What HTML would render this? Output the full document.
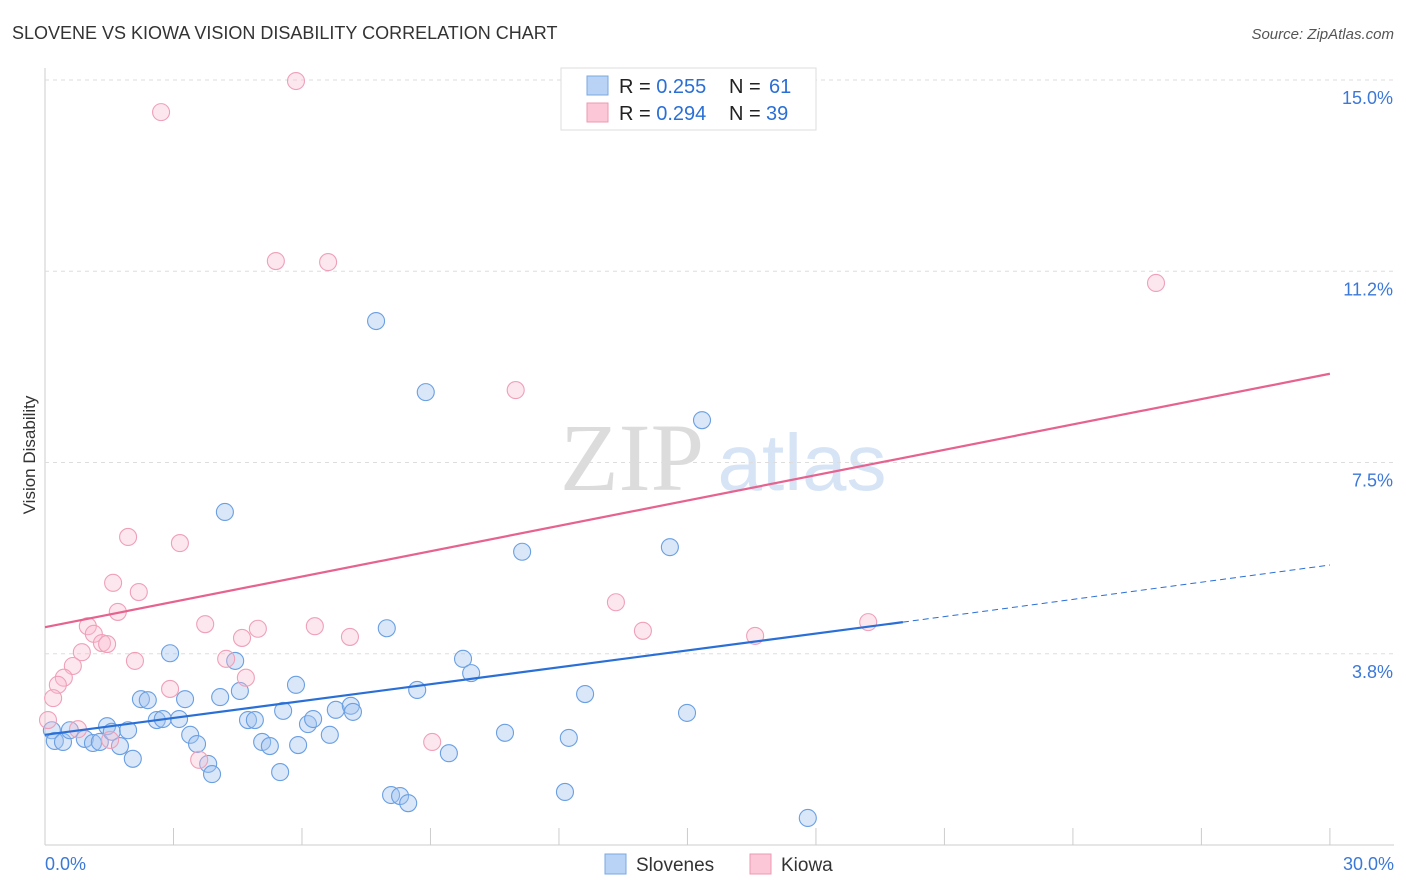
<!DOCTYPE html>
<html><head><meta charset="utf-8"><style>
body{margin:0;background:#fff;font-family:"Liberation Sans",sans-serif;}
#wrap{position:relative;width:1406px;height:892px;overflow:hidden;}
</style></head><body>
<div id="wrap">
<svg id="chart" width="1406" height="892">
<text x="12" y="39" font-size="18" fill="#333">SLOVENE VS KIOWA VISION DISABILITY CORRELATION CHART</text>
<text x="1394" y="39" font-size="15" fill="#555" font-style="italic" text-anchor="end">Source: ZipAtlas.com</text>
<text x="35" y="455" font-size="17" fill="#333" text-anchor="middle" transform="rotate(-90 35 455)">Vision Disability</text>
<g>
<text x="632" y="490" font-size="96" font-family="Liberation Serif,serif" fill="#dcdcdc" text-anchor="middle">ZIP</text>
<text x="802" y="490" font-size="80" fill="#d6e4f5" text-anchor="middle">atlas</text>
</g>
<g id="grid"></g>
<g id="pts"></g>
<g id="lines"></g>
<g>
<rect x="561" y="68" width="255" height="62" fill="#fff" stroke="#ddd"/>
<rect x="587" y="76" width="21" height="19" fill="#b8d3f5" stroke="#7aa8e0"/>
<rect x="587" y="103" width="21" height="19" fill="#fcc7d6" stroke="#eb9ab2"/>
<text x="619" y="93" font-size="20" fill="#222">R = <tspan fill="#2a6fd6">0.255</tspan><tspan x="729">N = </tspan><tspan fill="#2a6fd6" x="769">61</tspan></text>
<text x="619" y="120" font-size="20" fill="#222">R = <tspan fill="#2a6fd6">0.294</tspan><tspan x="729">N = </tspan><tspan fill="#2a6fd6" x="766">39</tspan></text>
</g>
<g>
<rect x="605" y="854" width="21" height="20" fill="#b8d3f5" stroke="#7aa8e0"/>
<text x="636" y="871" font-size="19" fill="#333">Slovenes</text>
<rect x="750" y="854" width="21" height="20" fill="#fcc7d6" stroke="#eb9ab2"/>
<text x="781" y="871" font-size="19" fill="#333">Kiowa</text>
</g>
</svg>
</div>
<script>
const xTicks=[0,30];
const yTicks=[3.75,7.5,11.25,15];
const yTickLabels=["3.8%","7.5%","11.2%","15.0%"];
const sloveneX=[0.16,0.23,0.42,0.58,0.93,1.12,1.28,1.45,1.56,1.75,1.94,2.05,2.24,2.40,2.61,2.75,2.92,3.13,3.27,3.39,3.55,3.81,3.90,4.09,4.20,4.44,4.55,4.74,4.90,5.07,5.25,5.49,5.56,5.86,5.91,6.14,6.26,6.65,6.79,7.14,7.19,7.73,7.98,8.08,8.29,8.48,8.69,8.89,9.43,9.76,9.95,10.74,11.14,12.14,12.23,12.61,14.59,14.99,15.34,17.81];
const sloveneY=[2.25,2.04,2.02,2.25,2.08,2.00,2.02,2.33,2.22,1.94,2.25,1.69,2.86,2.84,2.45,2.47,3.76,2.47,2.86,2.16,1.98,1.59,1.39,2.90,6.53,3.61,3.02,2.45,2.45,2.02,1.94,1.43,2.63,3.14,1.96,2.37,2.47,2.16,2.65,2.73,2.61,10.274,4.25,0.98,0.96,0.82,3.04,8.88,1.80,3.65,3.37,2.20,5.75,1.04,2.10,2.96,5.84,2.59,8.33,0.53];
const kiowaX=[5.86,2.71,5.39,6.61,25.94,10.99,1.94,3.15,1.59,2.19,1.70,1.00,3.74,6.30,4.97,4.60,1.14,1.33,1.45,7.12,0.86,4.23,2.10,0.65,4.69,0.44,0.30,0.19,2.92,13.33,13.96,16.58,19.22,9.04,3.60,1.52,0.77,0.07];
const kiowaY=[14.98,14.37,11.45,11.43,11.02,8.92,6.04,5.92,5.14,4.96,4.57,4.29,4.33,4.29,4.24,4.06,4.14,3.96,3.94,4.08,3.78,3.65,3.61,3.51,3.28,3.28,3.14,2.88,3.06,4.76,4.20,4.10,4.37,2.02,1.67,2.06,2.27,2.45];
const blueTrend=[[0,2.16],[20.03,4.37]];
const blueDash=[[20.03,4.37],[30,5.49]];
const pinkTrend=[[0,4.27],[30,9.24]];
const X=v=>45+v*42.83, Y=v=>845-v*51.0;
const NS="http://www.w3.org/2000/svg";
function mk(tag,attrs,parent){const e=document.createElementNS(NS,tag);for(const k in attrs)e.setAttribute(k,attrs[k]);parent.appendChild(e);return e;}
const grid=document.getElementById('grid');
mk('line',{x1:45,y1:68,x2:45,y2:845,stroke:'#ccc'},grid);
mk('line',{x1:45,y1:845,x2:1394,y2:845,stroke:'#ccc'},grid);
yTicks.forEach((t,i)=>{
 const g=mk('line',{x1:45,y1:Y(t),x2:1394,y2:Y(t),stroke:'#ddd','stroke-dasharray':'4,4'},grid);
 
 
 const tx=mk('text',{x:1393,y:Y(t)+24,'font-size':18,fill:'#3b78d8','text-anchor':'end'},grid);
 tx.textContent=yTickLabels[i];
 
 
});
for(let i=0;i<=10;i++){const l=mk('line',{x1:X(i*3),y1:828,x2:X(i*3),y2:845,stroke:'#ccc'},grid);
 
 }
xTicks.forEach((t,i)=>{const tx=mk('text',{x:i==0?45:1394,y:870,'font-size':18,fill:'#3b78d8','text-anchor':i==0?'start':'end'},grid);
 tx.textContent=t.toFixed(1)+'%';
 
 });
const pts=document.getElementById('pts');
sloveneX.forEach((x,i)=>{const c=mk('circle',{cx:X(x),cy:Y(sloveneY[i]),r:8.5,fill:'rgba(160,196,240,0.4)',stroke:'#6a9fe2','stroke-width':1.1},pts);
 
 });
kiowaX.forEach((x,i)=>{const c=mk('circle',{cx:X(x),cy:Y(kiowaY[i]),r:8.5,fill:'rgba(250,185,205,0.35)',stroke:'#efa0b8','stroke-width':1.1},pts);
 
 });
const lines=document.getElementById('lines');
const bl=mk('line',{x1:X(blueTrend[0][0]),y1:Y(blueTrend[0][1]),x2:X(blueTrend[1][0]),y2:Y(blueTrend[1][1]),stroke:'#2a6fd6','stroke-width':2.2},lines);


const bd=mk('line',{x1:X(blueDash[0][0]),y1:Y(blueDash[0][1]),x2:X(blueDash[1][0]),y2:Y(blueDash[1][1]),stroke:'#2a6fd6','stroke-width':1,'stroke-dasharray':'6,4'},lines);


const pl=mk('line',{x1:X(pinkTrend[0][0]),y1:Y(pinkTrend[0][1]),x2:X(pinkTrend[1][0]),y2:Y(pinkTrend[1][1]),stroke:'#e6628f','stroke-width':2.2},lines);


</script>
</body></html>
